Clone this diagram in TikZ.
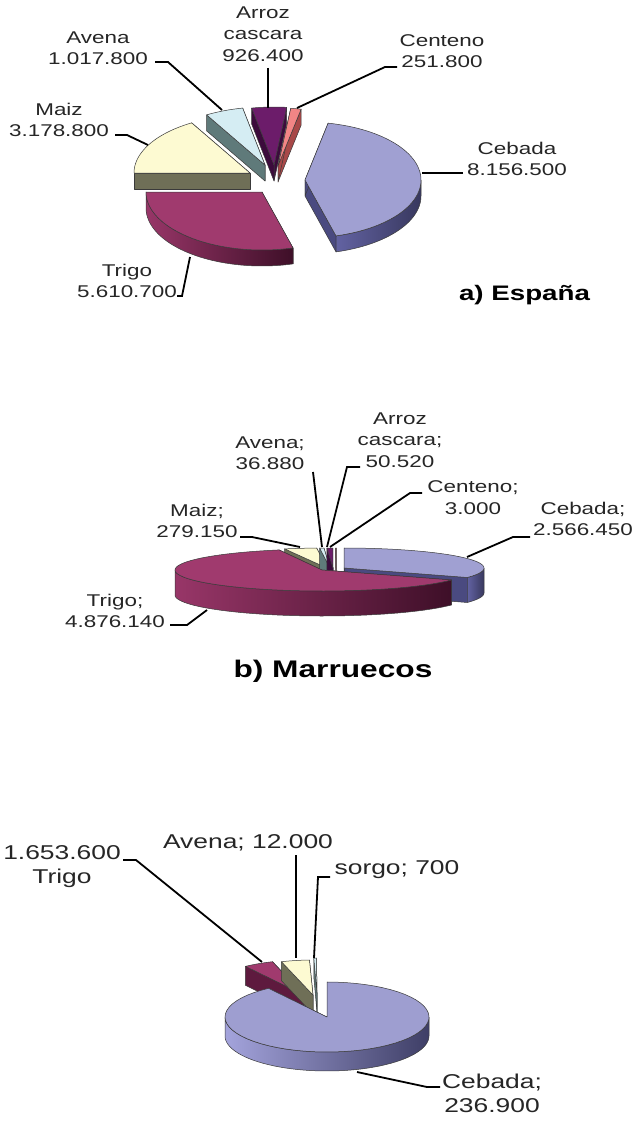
\documentclass[tikz,border=0pt]{standalone}
\usepackage{fontspec}
\newfontfamily\lab[FakeStretch=1.32]{Liberation Sans}
\definecolor{edgec}{HTML}{3A3A3A}
% Cebada (charts a, b)
\definecolor{cebT}{HTML}{A0A0D2}\definecolor{cebF}{HTML}{4A4A80}
\definecolor{cebL}{HTML}{6262A2}\definecolor{cebM}{HTML}{50508A}\definecolor{cebR}{HTML}{38385E}
% Cebada (chart c)
\definecolor{cbxT}{HTML}{9E9ED0}\definecolor{cbxF}{HTML}{4A4A80}
\definecolor{cbxL}{HTML}{A4A4DC}\definecolor{cbxM}{HTML}{7070BA}\definecolor{cbxR}{HTML}{3E3E66}
% Trigo
\definecolor{triT}{HTML}{A03A6E}\definecolor{triF}{HTML}{5E1A3E}
\definecolor{triL}{HTML}{983668}\definecolor{triM}{HTML}{74244E}\definecolor{triR}{HTML}{3E0F28}
% Maiz
\definecolor{maiT}{HTML}{FDFAD2}\definecolor{maiF}{HTML}{6F6F57}
\definecolor{maiL}{HTML}{8A8A6E}\definecolor{maiM}{HTML}{6F6F57}\definecolor{maiR}{HTML}{55553F}
% Avena
\definecolor{aveT}{HTML}{D5EDF3}\definecolor{aveF}{HTML}{5F7A7A}
\definecolor{aveL}{HTML}{7A9696}\definecolor{aveM}{HTML}{5F7A7A}\definecolor{aveR}{HTML}{465C5C}
% Arroz
\definecolor{arrT}{HTML}{6C1C6A}\definecolor{arrF}{HTML}{3C0B3C}
\definecolor{arrL}{HTML}{5A165A}\definecolor{arrM}{HTML}{481048}\definecolor{arrR}{HTML}{300830}
% Centeno
\definecolor{cenT}{HTML}{F28585}\definecolor{cenF}{HTML}{A84848}
\definecolor{cenL}{HTML}{C06060}\definecolor{cenM}{HTML}{A84848}\definecolor{cenR}{HTML}{803434}
\tikzset{
  slicefx/.style={draw=edgec, line width=0.5pt, line join=round},
  lbl/.style={font=\lab\fontsize{17}{21.5}\selectfont, align=center, inner sep=0pt, text=black!85},
  lblc/.style={font=\lab\fontsize{20}{24}\selectfont, align=center, inner sep=0pt, text=black!85},
  ttla/.style={font=\lab\bfseries\fontsize{21}{25}\selectfont, inner sep=0pt, anchor=base},
  ttlb/.style={font=\lab\bfseries\fontsize{24}{28}\selectfont, inner sep=0pt, anchor=base},
  leader/.style={draw=black, line width=1.8pt, line join=miter},
}
% #1 cx, #2 cy, #3 a, #4 b, #5 thickness, #6 start, #7 end (ccw, degrees), #8 colour prefix
\newcommand\pieslice[8]{%
  \pgfmathsetmacro\cx{#1}\pgfmathsetmacro\cy{#2}%
  \pgfmathsetmacro\ra{#3}\pgfmathsetmacro\rb{#4}\pgfmathsetmacro\hh{#5}%
  \pgfmathsetmacro\sa{#6}\pgfmathsetmacro\ea{#7}%
  \filldraw[slicefx, fill=#8F] (\cx,\cy) -- ({\cx+\ra*cos(\sa)},{\cy-\rb*sin(\sa)})
     -- ({\cx+\ra*cos(\sa)},{\cy+\hh-\rb*sin(\sa)}) -- (\cx,{\cy+\hh}) -- cycle;
  \filldraw[slicefx, fill=#8F] (\cx,\cy) -- ({\cx+\ra*cos(\ea)},{\cy-\rb*sin(\ea)})
     -- ({\cx+\ra*cos(\ea)},{\cy+\hh-\rb*sin(\ea)}) -- (\cx,{\cy+\hh}) -- cycle;
  \pgfmathsetmacro\ss{max(\sa,180)}\pgfmathsetmacro\se{min(\ea,360)}%
  \pgfmathtruncatemacro\dos{\se>\ss}%
  \ifnum\dos=1
    \shadedraw[slicefx, left color=#8L, middle color=#8M, right color=#8R]
      plot[domain=\ss:\se, samples=50, variable=\t] ({\cx+\ra*cos(\t)},{\cy-\rb*sin(\t)})
      -- plot[domain=\ss:\se, samples=50, variable=\t] ({\cx+\ra*cos(\ss+\se-\t)},{\cy+\hh-\rb*sin(\ss+\se-\t)})
      -- cycle;
  \fi
  \filldraw[slicefx, fill=#8T] (\cx,\cy)
     -- plot[domain=\sa:\ea, samples=60, variable=\t] ({\cx+\ra*cos(\t)},{\cy-\rb*sin(\t)}) -- cycle;
}
\begin{document}
\begin{tikzpicture}[x=1pt, y=-1pt]
\useasboundingbox[fill=white] (0,0) rectangle (639,1132);

% ================= a) España =================
\pieslice{265}{165}{116}{58}{16}{101.1}{120.2}{ave}
\pieslice{274}{165}{116}{58}{16}{83.7}{101.1}{arr}
\pieslice{278}{166}{116}{58}{16}{78.5}{83.7}{cen}
\pieslice{250}{173}{116}{58}{16}{120.2}{180}{mai}
\pieslice{305}{180}{116}{58}{16}{285.5}{438.5}{ceb}
\pieslice{262}{192}{116}{58}{16}{180}{285.5}{tri}

\node[lbl] (arrA) at (263,34) {Arroz\\cascara\\926.400};
\node[lbl] (cenA) at (442,51) {Centeno\\251.800};
\node[lbl] (aveA) at (98,48) {Avena\\1.017.800};
\node[lbl] (maiA) at (59,120) {Maiz\\3.178.800};
\node[lbl] (triA) at (127,281) {Trigo\\5.610.700};
\node[lbl] (cebA) at (517,159) {Cebada\\8.156.500};
\node[ttla] (ttlA) at (524.5,300) {a) España};

\coordinate (aveA1) at (155,62);  \coordinate (aveA2) at (168,62);  \coordinate (aveA3) at (222,110);
\coordinate (arrA1) at (268,68);  \coordinate (arrA2) at (268,108);
\coordinate (cenA1) at (397,67);  \coordinate (cenA2) at (385,67);  \coordinate (cenA3) at (297,108);
\coordinate (maiA1) at (115,135); \coordinate (maiA2) at (127,135); \coordinate (maiA3) at (148,145);
\coordinate (triA1) at (177,296); \coordinate (triA2) at (182,296); \coordinate (triA3) at (190,257);
\coordinate (cebA1) at (463,173); \coordinate (cebA2) at (422,173);
\draw[leader] (aveA1) -- (aveA2) -- (aveA3);
\draw[leader] (arrA1) -- (arrA2);
\draw[leader] (cenA1) -- (cenA2) -- (cenA3);
\draw[leader] (maiA1) -- (maiA2) -- (maiA3);
\draw[leader] (triA1) -- (triA2) -- (triA3);
\draw[leader] (cebA1) -- (cebA2);

% ================= b) Marruecos =================
\pieslice{327}{568}{145}{20}{25}{94.1}{107}{mai}
\pieslice{330}{568}{145}{20}{25}{92.4}{94.1}{ave}
\pieslice{333}{568}{145}{20}{25}{90.1}{92.4}{arr}
\pieslice{336}{568}{145}{20}{25}{90}{90.2}{cen}
\pieslice{344}{568}{140}{20}{25}{331.7}{450}{ceb}
\pieslice{322}{570}{147}{21}{25}{107}{331.7}{tri}

\node[lbl] (arrB) at (400,440) {Arroz\\cascara;\\50.520};
\node[lbl] (aveB) at (270,453) {Avena;\\36.880};
\node[lbl] (cenB) at (473,497.5) {Centeno;\\3.000};
\node[lbl] (cebB) at (583,519) {Cebada;\\2.566.450};
\node[lbl] (maiB) at (197,521) {Maiz;\\279.150};
\node[lbl] (triB) at (115,611) {Trigo;\\4.876.140};
\node[ttlb] (ttlB) at (333,677) {b) Marruecos};

\coordinate (maiB1) at (240,537); \coordinate (maiB2) at (252,537); \coordinate (maiB3) at (300,547);
\coordinate (aveB1) at (313,472); \coordinate (aveB2) at (322,547);
\coordinate (arrB1) at (360,467); \coordinate (arrB2) at (347,467); \coordinate (arrB3) at (327,547);
\coordinate (cenB1) at (422,493); \coordinate (cenB2) at (410,493); \coordinate (cenB3) at (330,547);
\coordinate (cebB1) at (530,537); \coordinate (cebB2) at (513,537); \coordinate (cebB3) at (467,557);
\coordinate (triB1) at (170,625); \coordinate (triB2) at (187,625); \coordinate (triB3) at (207,610);
\draw[leader] (maiB1) -- (maiB2) -- (maiB3);
\draw[leader] (aveB1) -- (aveB2);
\draw[leader] (arrB1) -- (arrB2) -- (arrB3);
\draw[leader] (cenB1) -- (cenB2) -- (cenB3);
\draw[leader] (cebB1) -- (cebB2) -- (cebB3);
\draw[leader] (triB1) -- (triB2) -- (triB3);

% ================= third chart =================
\pieslice{304}{995}{102}{35}{19}{108}{125}{tri}
\pieslice{313}{995}{102}{35}{19}{92}{108}{mai}
\pieslice{317}{993}{102}{35}{19}{90.3}{91.8}{ave}
\pieslice{327}{1017}{102}{35}{19}{125}{450}{cbx}

\node[lblc] (triC) at (62,867) {1.653.600\\Trigo};
\node[lblc] (aveC) at (248,843) {Avena; 12.000};
\node[lblc] (sorC) at (397,870) {sorgo; 700};
\node[lblc] (cebC) at (492,1093.5) {Cebada;\\236.900};

\coordinate (triC1) at (123,860); \coordinate (triC2) at (136,860); \coordinate (triC3) at (262,962);
\coordinate (aveC1) at (296,855); \coordinate (aveC2) at (296,958);
\coordinate (sorC1) at (330,877); \coordinate (sorC2) at (318,877); \coordinate (sorC3) at (314,958);
\coordinate (cebC1) at (440,1087); \coordinate (cebC2) at (427,1087); \coordinate (cebC3) at (357,1072);
\draw[leader] (triC1) -- (triC2) -- (triC3);
\draw[leader] (aveC1) -- (aveC2);
\draw[leader] (sorC1) -- (sorC2) -- (sorC3);
\draw[leader] (cebC1) -- (cebC2) -- (cebC3);
\end{tikzpicture}
\end{document}
